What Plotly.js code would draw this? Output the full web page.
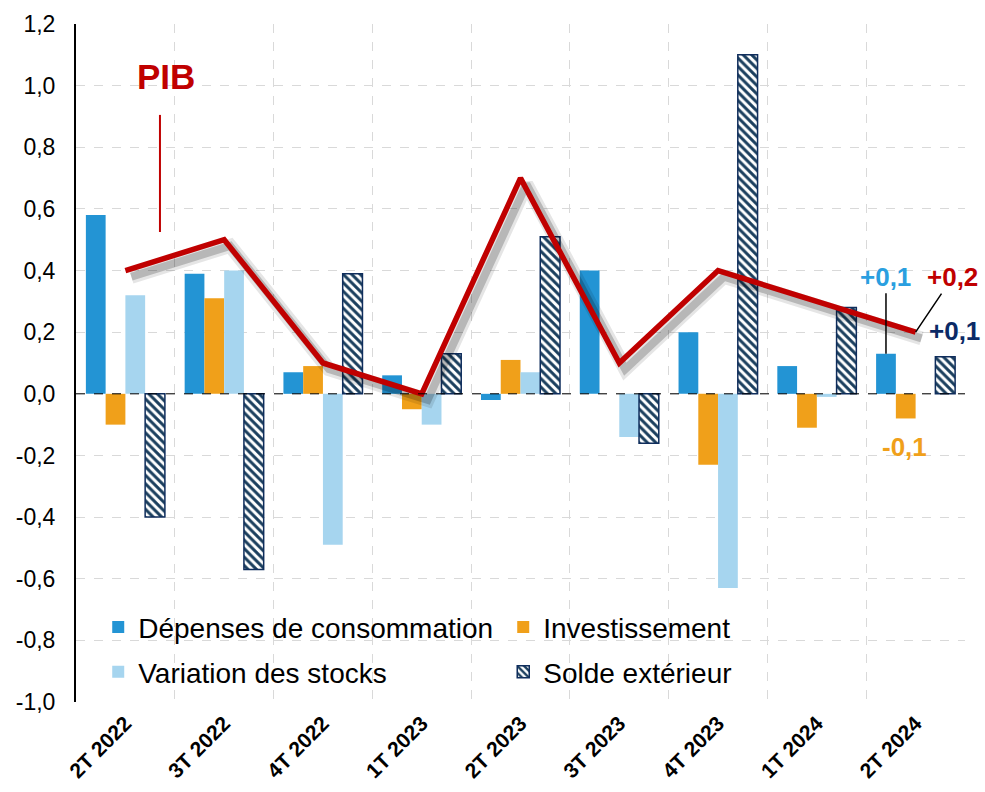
<!DOCTYPE html>
<html>
<head>
<meta charset="utf-8">
<script src="https://cdn.plot.ly/plotly-3.0.1.min.js"></script>
<style>html,body{margin:0;padding:0;background:#fff;}#chart{width:985px;height:792px;}</style>
</head>
<body>
<div id="chart"></div>
<script>
const categories = ["2T 2022","3T 2022","4T 2022","1T 2023","2T 2023","3T 2023","4T 2023","1T 2024","2T 2024"];
const consommation = [0.58, 0.39, 0.07, 0.06, -0.02, 0.40, 0.20, 0.09, 0.13];
const investissement = [-0.10, 0.31, 0.09, -0.05, 0.11, 0.00, -0.23, -0.11, -0.08];
const stocks = [0.32, 0.40, -0.49, -0.10, 0.07, -0.14, -0.63, -0.01, 0.00];
const solde = [-0.40, -0.57, 0.39, 0.13, 0.51, -0.16, 1.10, 0.28, 0.12];
const pib = [0.4, 0.5, 0.1, 0.0, 0.7, 0.1, 0.4, 0.3, 0.2];
const yTicks = [-1.0,-0.8,-0.6,-0.4,-0.2,0,0.2,0.4,0.6,0.8,1.0,1.2];
const yTickText = yTicks.map(v => v.toFixed(1).replace(".", ","));

const FONT = "Arial, 'Liberation Sans', sans-serif";
const RED = "#C00000";
const BLUE = "#2394D4";
const ORANGE = "#F0A01A";
const LIGHT = "#A6D5EF";
const NAVY = "#0F2D5C";

const traces = [
  {type:"bar", name:"Dépenses de consommation", x:categories, y:consommation, marker:{color:BLUE}, legend:"legend"},
  {type:"bar", name:"Investissement", x:categories, y:investissement, marker:{color:ORANGE}, legend:"legend"},
  {type:"bar", name:"Variation des stocks", x:categories, y:stocks, marker:{color:LIGHT}, legend:"legend2"},
  {type:"bar", name:"Solde extérieur", x:categories, y:solde, legend:"legend2",
   marker:{color:"#ffffff", line:{color:NAVY, width:1.5},
           pattern:{shape:"\\", fgcolor:"#1B3F5E", bgcolor:"#ffffff", size:6, solidity:0.5}}},
  {type:"scatter", mode:"lines", name:"PIB ombre 1", x:categories, y:pib, xaxis:"x2", yaxis:"y2",
   line:{color:"rgba(0,0,0,0.10)", width:14}, showlegend:false, hoverinfo:"skip"},
  {type:"scatter", mode:"lines", name:"PIB ombre 2", x:categories, y:pib, xaxis:"x2", yaxis:"y2",
   line:{color:"rgba(0,0,0,0.20)", width:8}, showlegend:false, hoverinfo:"skip"},
  {type:"scatter", mode:"lines", name:"PIB", x:categories, y:pib, xaxis:"x3", yaxis:"y3",
   line:{color:RED, width:5.5}, showlegend:false}
];

const yr = [-1.0, 1.2];
const layout = {
  width:985, height:792,
  margin:{l:76, r:20, t:24, b:90},
  paper_bgcolor:"#fff", plot_bgcolor:"#fff",
  font:{family:FONT, color:"#000"},
  separators:",.",
  barmode:"group", bargap:0.2, bargroupgap:0,
  xaxis:{type:"category", tickson:"boundaries", range:[-0.5, 8.5],
         showgrid:true, gridcolor:"#d9d9d9", griddash:"dash", gridwidth:1,
         ticks:"", tickangle:-45, tickfont:{size:21, family:FONT, weight:"bold"}, ticklabelstandoff:4,
         showline:false, zeroline:false, fixedrange:true},
  yaxis:{range:yr, tickvals:yTicks, ticktext:yTickText, showgrid:true, gridcolor:"#d9d9d9",
         griddash:"dash", gridwidth:1, zeroline:false, showline:true, linecolor:"#000", linewidth:2,
         ticks:"", tickfont:{size:23, family:FONT}, ticklabelstandoff:14, fixedrange:true},
  xaxis2:{type:"category", overlaying:"x", range:[-0.5-0.06, 8.5-0.06], visible:false},
  yaxis2:{overlaying:"y", range:[yr[0]+0.02, yr[1]+0.02], visible:false},
  xaxis3:{type:"category", overlaying:"x", range:[-0.5, 8.5], visible:false},
  yaxis3:{overlaying:"y", range:yr, visible:false},
  legend:{orientation:"h", x:0.025, y:0.110, xanchor:"left", yanchor:"middle",
          font:{size:28, family:FONT}, entrywidth:360, entrywidthmode:"pixels",
          bgcolor:"rgba(0,0,0,0)", itemwidth:30, traceorder:"normal"},
  legend2:{orientation:"h", x:0.025, y:0.044, xanchor:"left", yanchor:"middle",
          font:{size:28, family:FONT}, entrywidth:360, entrywidthmode:"pixels",
          bgcolor:"rgba(0,0,0,0)", itemwidth:30, traceorder:"normal"},
  shapes:[
    {type:"line", xref:"paper", yref:"y", x0:0, x1:1, y0:0, y1:0, line:{color:"#000", width:1, dash:"dash"}},
    {type:"line", xref:"x", yref:"y", x0:0.35, x1:0.35, y0:0.525, y1:0.905, line:{color:RED, width:2}}
  ],
  annotations:[
    {xref:"x", yref:"y", x:0.41, y:1.03, text:"<b>PIB</b>", showarrow:false, font:{size:35, color:RED, family:FONT}},
    {xref:"x", yref:"y", x:7.7, y:0.13, text:"<b>+0,1</b>", showarrow:true, arrowhead:0, arrowwidth:1.5, arrowcolor:"#000",
     ax:0, ay:-77, font:{size:26, color:"#2A9FE0", family:FONT}},
    {xref:"x", yref:"y", x:8, y:0.2, text:"<b>+0,2</b>", showarrow:true, arrowhead:0, arrowwidth:1.5, arrowcolor:"#000",
     ax:37, ay:-55, font:{size:26, color:RED, family:FONT}},
    {xref:"x", yref:"y", x:8.39, y:0.205, text:"<b>+0,1</b>", showarrow:false, font:{size:26, color:"#0B2A66", family:FONT}},
    {xref:"x", yref:"y", x:7.89, y:-0.174, text:"<b>-0,1</b>", showarrow:false, font:{size:26, color:ORANGE, family:FONT}}
  ]
};

Plotly.newPlot("chart", traces, layout, {displayModeBar:false, staticPlot:true});
</script>
</body>
</html>
